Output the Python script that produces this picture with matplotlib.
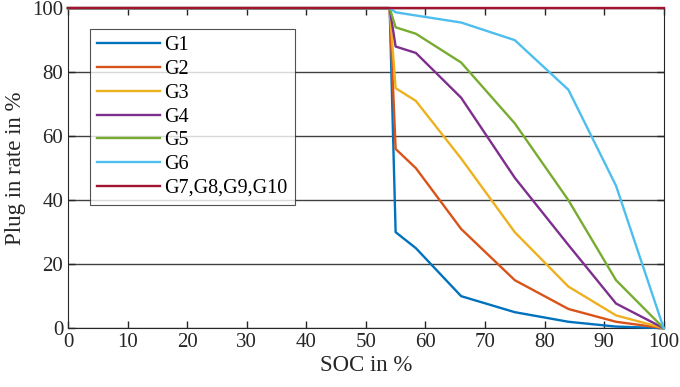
import matplotlib
matplotlib.use("Agg")
import matplotlib.pyplot as plt

plt.rcParams['font.family'] = ['Liberation Serif', 'DejaVu Serif']

soc = [0, 54, 55, 58.4, 66, 75, 84, 92, 100]
g1 = [100, 100, 30, 25, 10, 5, 2, 0.5, 0]
g2 = [100, 100, 56, 50, 31, 15, 6, 2, 0]
g3 = [100, 100, 75, 71, 53, 30, 13, 4, 0]
g4 = [100, 100, 88, 86, 72, 47, 26, 7.7, 0]
g5 = [100, 100, 94, 92, 83, 64, 40, 15, 0]
g6 = [100, 100, 98.7, 97.7, 95.5, 90, 74.5, 44.5, 0]
g7_10 = [100, 100, 100, 100, 100, 100, 100, 100, 100]

series = [g1, g2, g3, g4, g5, g6, g7_10]
labels = ["G1", "G2", "G3", "G4", "G5", "G6", "G7,G8,G9,G10"]
colors = ["#0072BD", "#D95319", "#EDB120", "#7E2F8E", "#77AC30", "#4DBEEE", "#A2142F"]

fig = plt.figure(figsize=(6.8, 3.87), dpi=100)
ax = fig.add_axes([0.1, 0.152, 0.876, 0.827])

for y, lab, c in zip(series, labels, colors):
    ax.plot(soc, y, color=c, linewidth=1.7, label=lab, clip_on=False, zorder=3)

ax.set_xlim(0, 100)
ax.set_ylim(0, 100)
ax.set_xticks(range(0, 101, 10))
ax.set_yticks(range(0, 101, 20))
ax.yaxis.grid(True, color="#404040", linewidth=1.0)
ax.set_axisbelow(True)
ax.tick_params(direction="in", labelsize=15, length=5, width=1, colors="#262626", top=True, right=True)
for s in ax.spines.values():
    s.set_color("#262626")
    s.set_zorder(2)
ax.set_xlabel("SOC in %", fontsize=16.5, color="#262626", labelpad=2)
ax.set_ylabel("Plug in rate in %", fontsize=16.5, color="#262626", labelpad=4)

leg = ax.legend(loc="upper left", bbox_to_anchor=(0.037, 0.934), borderaxespad=0, fontsize=14.5,
                frameon=True, fancybox=False, edgecolor="#262626", handlelength=3.1, borderpad=0.35,
                labelspacing=0.23, handletextpad=0.25)
leg.get_frame().set_linewidth(0.8)
leg.set_zorder(5)

fig.savefig("out.png", dpi=100)
